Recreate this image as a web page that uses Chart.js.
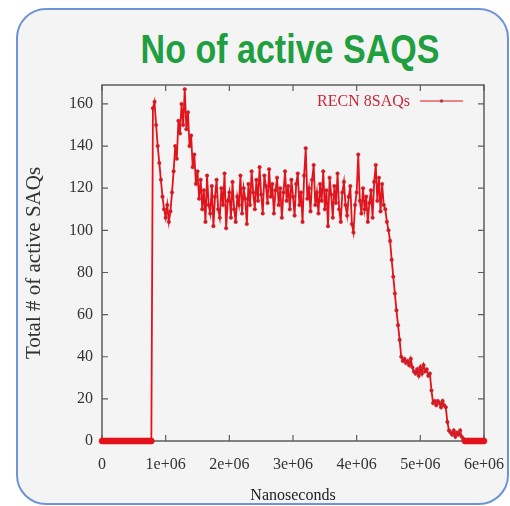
<!DOCTYPE html>
<html>
<head>
<meta charset="utf-8">
<script src="https://cdn.jsdelivr.net/npm/chart.js@4.4.1/dist/chart.umd.min.js"></script>
<style>
    html, body { margin: 0; padding: 0; background: #fff; }
    body { width: 510px; height: 506px; position: relative; overflow: hidden; }
    .card {
        position: absolute; left: 16px; top: 8px;
        width: 489px; height: 493px;
        border: 2px solid #6d95d6; border-radius: 30px;
        background: #f4f4f4; overflow: hidden;
    }
    .title {
        position: absolute; left: 0; top: 29px; width: 580px;
        text-align: center; white-space: nowrap;
        font: bold 41px "Liberation Sans", Arial, sans-serif; line-height: 41px;
        color: #1f9f40;
        transform: scaleX(0.83); transform-origin: 290px 0;
    }
    .chart-box { position: absolute; left: 2px; top: 68px; width: 485px; height: 428px; }
</style>
</head>
<body>
<div class="card">
    <div class="chart-box"><canvas id="saqChart"></canvas></div>
</div>
<div class="title">No of active SAQS</div>

<script>
// time in microseconds (converted to ns for the axis)
const timeUs = [
    0, 25, 50, 75, 100, 125, 150, 175, 200, 225, 250, 275, 300, 325, 350, 375, 400, 425, 450, 475,
    500, 525, 550, 575, 600, 625, 650, 675, 700, 725, 750, 775, 800, 825, 850, 875, 900, 925, 950, 975,
    1000, 1025, 1050, 1075, 1100, 1125, 1150, 1175, 1200, 1225, 1250, 1275, 1300, 1325, 1350, 1375, 1400, 1425, 1450, 1475,
    1500, 1525, 1550, 1575, 1600, 1625, 1650, 1675, 1700, 1725, 1750, 1775, 1800, 1825, 1850, 1875, 1900, 1925, 1950, 1975,
    2000, 2025, 2050, 2075, 2100, 2125, 2150, 2175, 2200, 2225, 2250, 2275, 2300, 2325, 2350, 2375, 2400, 2425, 2450, 2475,
    2500, 2525, 2550, 2575, 2600, 2625, 2650, 2675, 2700, 2725, 2750, 2775, 2800, 2825, 2850, 2875, 2900, 2925, 2950, 2975,
    3000, 3025, 3050, 3075, 3100, 3125, 3150, 3175, 3200, 3225, 3250, 3275, 3300, 3325, 3350, 3375, 3400, 3425, 3450, 3475,
    3500, 3525, 3550, 3575, 3600, 3625, 3650, 3675, 3700, 3725, 3750, 3775, 3800, 3825, 3850, 3875, 3900, 3925, 3950, 3975,
    4000, 4025, 4050, 4075, 4100, 4125, 4150, 4175, 4200, 4225, 4250, 4275, 4300, 4325, 4350, 4375, 4400, 4425, 4450, 4475,
    4500, 4525, 4550, 4575, 4600, 4625, 4650, 4675, 4700, 4725, 4750, 4775, 4800, 4825, 4850, 4875, 4900, 4925, 4950, 4975,
    5000, 5025, 5050, 5075, 5100, 5125, 5150, 5175, 5200, 5225, 5250, 5275, 5300, 5325, 5350, 5375, 5400, 5425, 5450, 5475,
    5500, 5525, 5550, 5575, 5600, 5625, 5650, 5675, 5700, 5725, 5750, 5775, 5800, 5825, 5850, 5875, 5900, 5925, 5950, 5975,
    6000
];

const activeSaqs = [
    0, 0, 0, 0, 0, 0, 0, 0, 0, 0, 0, 0, 0, 0, 0, 0, 0, 0, 0, 0,
    0, 0, 0, 0, 0, 0, 0, 0, 0, 0, 0, 0, 158, 161, 150, 140, 132, 124, 116, 110,
    106, 112, 104, 109, 118, 128, 140, 134, 152, 146, 160, 150, 167, 148, 156, 140, 145, 130, 136, 122,
    128, 115, 124, 110, 119, 104, 126, 112, 108, 121, 102, 116, 124, 110, 106, 120, 112, 127, 101, 114,
    118, 106, 123, 110, 104, 116, 112, 126, 108, 120, 115, 103, 122, 112, 128, 118, 110, 124, 114, 130,
    117, 108, 126, 121, 113, 129, 116, 122, 108, 119, 125, 112, 120, 106, 118, 128, 114, 121, 110, 124,
    116, 107, 122, 127, 112, 118, 104, 126, 139, 115, 120, 109, 124, 131, 112, 118, 108, 122, 114, 128,
    110, 119, 102, 125, 117, 106, 121, 113, 127, 110, 104, 118, 123, 112, 107, 116, 121, 103, 99, 112,
    118, 136, 114, 108, 120, 110, 116, 104, 113, 119, 106, 123, 131, 114, 125, 109, 122, 112, 110, 104,
    100, 95, 86, 78, 70, 62, 55, 48, 40, 38, 39, 37, 38, 36, 39, 35, 33, 32, 34, 31,
    35, 32, 36, 33, 34, 31, 32, 24, 18, 19, 17, 19, 18, 16, 19, 17, 16, 9, 5, 4,
    3, 5, 2, 4, 3, 5, 2, 1, 0, 0, 0, 0, 0, 0, 0, 0, 0, 0, 0, 0,
    0
];

const xTickValues = [0, 1000000, 2000000, 3000000, 4000000, 5000000, 6000000];
const xTickLabels = ['0', '1e+06', '2e+06', '3e+06', '4e+06', '5e+06', '6e+06'];
const yTickValues = [0, 20, 40, 60, 80, 100, 120, 140, 160];
const yTickLabels = ['0', '20', '40', '60', '80', '100', '120', '140', '160'];

const seriesLabel = 'RECN 8SAQs';
const lineColor = '#e3121b';
const serif = '"Liberation Serif", "Times New Roman", serif';

// keep label overflow from pushing the plot box around
function fixScaleSize(scale, prop, size) {
    scale[prop] = size;
    scale.paddingTop = 0;
    scale.paddingBottom = 0;
    scale.paddingLeft = 0;
    scale.paddingRight = 0;
}

// gnuplot style box with inward ticks on all four sides
const frameTicks = {
    id: 'frameTicks',
    beforeDatasetsDraw(chart) {
        const { ctx, chartArea: a, scales: { x, y } } = chart;
        ctx.save();
        ctx.strokeStyle = '#5c5c5c';
        ctx.lineWidth = 1.5;
        ctx.strokeRect(a.left, a.top, a.right - a.left, a.bottom - a.top);
        ctx.lineWidth = 1.2;
        ctx.beginPath();
        xTickValues.forEach((v) => {
            const px = x.getPixelForValue(v);
            ctx.moveTo(px, a.bottom);
            ctx.lineTo(px, a.bottom - 6);
            ctx.moveTo(px, a.top);
            ctx.lineTo(px, a.top + 6);
        });
        yTickValues.forEach((v) => {
            const py = y.getPixelForValue(v);
            ctx.moveTo(a.left, py);
            ctx.lineTo(a.left + 6, py);
            ctx.moveTo(a.right, py);
            ctx.lineTo(a.right - 6, py);
        });
        ctx.stroke();
        ctx.restore();
    }
};

// legend inside the plot, top right, sample line after the text
const insideLegend = {
    id: 'insideLegend',
    afterDatasetsDraw(chart) {
        const { ctx, chartArea: a } = chart;
        const ds = chart.data.datasets[0];
        const ly = a.top + 17;
        const lineStart = a.right - 64;
        const lineEnd = a.right - 21;
        ctx.save();
        ctx.font = '16px ' + serif;
        ctx.fillStyle = '#c8283a';
        ctx.textAlign = 'right';
        ctx.textBaseline = 'middle';
        ctx.fillText(ds.label, lineStart - 10, ly);
        ctx.strokeStyle = ds.borderColor;
        ctx.lineWidth = 1;
        ctx.beginPath();
        ctx.moveTo(lineStart, ly - 1);
        ctx.lineTo(lineEnd, ly - 1);
        ctx.stroke();
        ctx.fillStyle = '#b04048';
        ctx.beginPath();
        ctx.arc((lineStart + lineEnd) / 2, ly - 1, 1.8, 0, Math.PI * 2);
        ctx.fill();
        ctx.restore();
    }
};

const ctx = document.getElementById('saqChart').getContext('2d');
const saqChart = new Chart(ctx, {
    type: 'line',
    data: {
        datasets: [{
            label: seriesLabel,
            data: timeUs.map((t, i) => ({ x: t * 1000, y: activeSaqs[i] })),
            borderColor: lineColor,
            borderWidth: 1.8,
            // the idle stretches at zero are drawn as a dense, heavier band
            pointRadius: (c) => (c.raw && c.raw.y === 0 ? 3 : 1.8),
            pointBackgroundColor: lineColor,
            pointBorderColor: (c) => (c.raw && c.raw.y === 0 ? lineColor : 'rgba(170, 50, 60, 0.8)'),
            pointBorderWidth: 0.6,
            tension: 0,
            clip: false
        }]
    },
    options: {
        responsive: true,
        maintainAspectRatio: false,
        animation: false,
        layout: {
            padding: { top: 7, right: 21, left: 0, bottom: 0 }
        },
        plugins: {
            legend: { display: false },
            tooltip: { enabled: false }
        },
        scales: {
            x: {
                type: 'linear',
                min: 0,
                max: 6000000,
                afterFit: (s) => fixScaleSize(s, 'height', 65),
                afterBuildTicks: (s) => { s.ticks = xTickValues.map((v) => ({ value: v })); },
                grid: { display: false, drawTicks: false },
                border: { display: false },
                ticks: {
                    callback: (v, i) => xTickLabels[i],
                    autoSkip: false,
                    maxRotation: 0,
                    padding: 14,
                    color: '#333',
                    font: { family: serif, size: 16 }
                },
                title: {
                    display: true,
                    text: 'Nanoseconds',
                    color: '#222',
                    padding: { top: 0, bottom: 1 },
                    font: { family: serif, size: 16 }
                }
            },
            y: {
                min: 0,
                max: 169,
                afterFit: (s) => fixScaleSize(s, 'width', 82),
                afterBuildTicks: (s) => { s.ticks = yTickValues.map((v) => ({ value: v })); },
                grid: { display: false, drawTicks: false },
                border: { display: false },
                ticks: {
                    callback: (v, i) => yTickLabels[i],
                    padding: 9,
                    color: '#333',
                    font: { family: serif, size: 16 }
                },
                title: {
                    display: true,
                    text: 'Total # of active SAQs',
                    color: '#333',
                    padding: { top: 2, bottom: 0 },
                    font: { family: serif, size: 21 }
                }
            }
        }
    },
    plugins: [frameTicks, insideLegend]
});
</script>
</body>
</html>
